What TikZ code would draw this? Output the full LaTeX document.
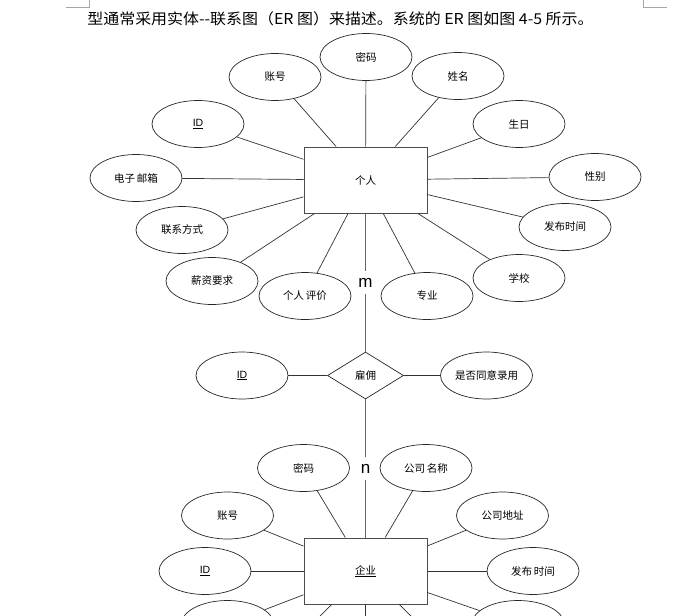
\documentclass[tikz,border=0pt]{standalone}
\usepackage{graphicx}
\usepackage{fontspec}
\newfontfamily\cjk{Noto Sans CJK SC}
\newfontfamily\arial{Liberation Sans}
\usetikzlibrary{shapes.geometric}
\begin{document}
\begin{tikzpicture}[x=1pt,y=-1pt,
  attr/.style={ellipse, draw=black!85, line width=0.7pt, minimum width=92pt, minimum height=47pt, inner sep=0pt, font=\cjk\fontsize{10.5}{12}\selectfont},
  ent/.style={rectangle, draw=black!70, line width=1pt, minimum width=123pt, minimum height=66pt, inner sep=0pt, font=\cjk\fontsize{10.5}{12}\selectfont},
  rel/.style={diamond, draw=black!85, line width=0.7pt, minimum width=76pt, minimum height=47pt, inner sep=0pt, font=\cjk\fontsize{10.5}{12}\selectfont},
  link/.style={draw=black!80, line width=0.7pt},
  trunk/.style={draw=black!60, line width=1.2pt},
  card/.style={fill=white, font=\arial\fontsize{17}{17}\selectfont, inner sep=0pt, minimum height=23pt, minimum width=14pt},
  cornermark/.style={draw=black!35, line width=0.6pt}]
\useasboundingbox (0,0) rectangle (683,616);
\clip (0,0) rectangle (683,616);

% page corner marks
\coordinate (m1) at (66,7); \coordinate (m2) at (89,7); \coordinate (m3) at (89,0);
\coordinate (m4) at (643,0); \coordinate (m5) at (643,7); \coordinate (m6) at (667,7);
\draw[cornermark] (m1) -- (m2) -- (m3);
\draw[cornermark] (m4) -- (m5) -- (m6);

% title
\node (title) [font=\cjk\fontsize{15}{16}\selectfont, inner sep=0pt] at (340.5,19) {\scalebox{1.064}[1]{型通常采用实体--联系图（ER 图）来描述。系统的 ER 图如图 4-5 所示。}};

% person entity
\node (P) [ent] at (365.5,180) {个人};
\node (a1) [attr] at (366,57) {密码};
\node (a2) [attr] at (275,77) {账号};
\node (a3) [attr] at (458,76) {姓名};
\node (a4) [attr] at (198,124) {\arial\underline{ID}};
\node (a5) [attr] at (519,124) {生日};
\node (a6) [attr] at (136,178) {电子\hspace{2pt}邮箱};
\node (a7) [attr] at (595,177) {性别};
\node (a8) [attr] at (182,230) {联系方式};
\node (a9) [attr] at (565,227) {发布时间};
\node (a10) [attr] at (212,281) {薪资要求};
\node (a11) [attr] at (519,278) {学校};
\node (a12) [attr] at (305,296) {个人\hspace{2pt}评价};
\node (a13) [attr] at (427,296) {专业};
\foreach \i in {1,...,13} \draw[link] (P) -- (a\i);

% relationship
\node (R) [rel] at (365.5,375.5) {雇佣};
\node (r1) [attr] at (242,375.5) {\arial\underline{ID}};
\node (r2) [attr] at (486.5,375.5) {是否同意录用};
\draw[link] (r1) -- (R);
\draw[link] (R) -- (r2);

% company entity
\node (E) [ent] at (365.5,571) {\underline{企业}};
\node (b1) [attr] at (303.5,468) {密码};
\node (b2) [attr] at (426,468) {公司\hspace{2pt}名称};
\node (b3) [attr] at (227.5,515.5) {账号};
\node (b4) [attr] at (502.5,515.5) {公司地址};
\node (b5) [attr] at (205,571) {\arial\underline{ID}};
\node (b6) [attr] at (533,571) {发布\hspace{2pt}时间};
\node (b7) [attr] at (227.5,624) {};
\node (b8) [attr] at (518,624) {};
\coordinate (c1) at (310,626);
\coordinate (c2) at (365.5,626);
\coordinate (c3) at (421,626);
\foreach \i in {1,...,8} \draw[link] (E) -- (b\i);
\foreach \i in {1,2,3} \draw[link] (E) -- (c\i);

% trunk with cardinalities
\draw[trunk] (P) -- node[card] {m} (R);
\draw[trunk] (R) -- node[card] {n} (E);
\end{tikzpicture}
\end{document}
